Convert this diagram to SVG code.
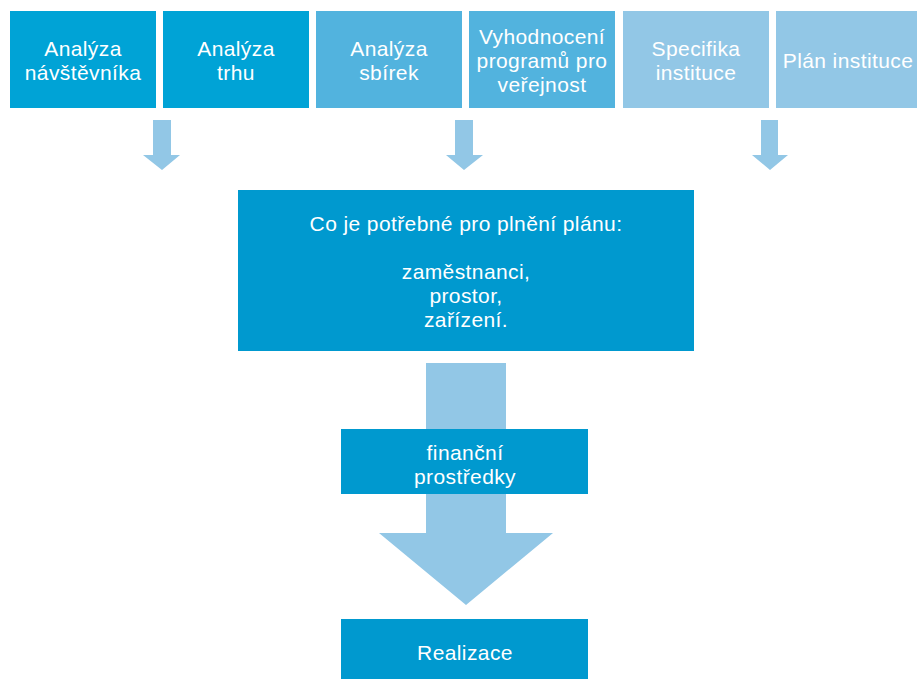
<svg xmlns="http://www.w3.org/2000/svg" width="917" height="679" viewBox="0 0 917 679">
<style>
text{font-family:"Liberation Sans",Arial,sans-serif;font-size:21px;letter-spacing:0.4px;fill:#fff;text-anchor:middle}
.c1{fill:#00A3D6}.c2{fill:#52B3DE}.c3{fill:#92C7E6}.c0{fill:#0099CF}
.arr{fill:#92C7E6}
</style>
<rect width="917" height="679" fill="#fff"/>
<g id="connectors">
<polygon class="arr" points="153,120 171,120 171,155 180,155 162,170 143,155 153,155"/>
<polygon class="arr" points="455,120 473,120 473,155 483,155 464,170 446,155 455,155"/>
<polygon class="arr" points="761,120 778,120 778,155 788,155 770,170 752,155 761,155"/>
<polygon class="arr" points="426,363 506,363 506,533 553,533 466,605 379,533 426,533"/>
</g>
<g id="n1"><rect class="c1" x="10" y="11" width="146" height="97"/><text x="83" y="56">Analýza</text><text x="83" y="80">návštěvníka</text></g>
<g id="n2"><rect class="c1" x="163" y="11" width="146" height="97"/><text x="236" y="56">Analýza</text><text x="236" y="80">trhu</text></g>
<g id="n3"><rect class="c2" x="316" y="11" width="146" height="97"/><text x="389" y="56">Analýza</text><text x="389" y="80">sbírek</text></g>
<g id="n4"><rect class="c2" x="469" y="11" width="146" height="97"/><text x="542" y="44">Vyhodnocení</text><text x="542" y="68">programů pro</text><text x="542" y="92">veřejnost</text></g>
<g id="n5"><rect class="c3" x="623" y="11" width="146" height="97"/><text x="696" y="56">Specifika</text><text x="696" y="80">instituce</text></g>
<g id="n6"><rect class="c3" x="776" y="11" width="146" height="97"/><text x="848" y="68">Plán instituce</text></g>
<g id="n7"><rect class="c0" x="238" y="190" width="456" height="161"/><text x="466" y="231">Co je potřebné pro plnění plánu:</text><text x="466" y="279">zaměstnanci,</text><text x="466" y="303">prostor,</text><text x="466" y="327">zařízení.</text></g>
<g id="n8"><rect class="c0" x="341" y="429" width="247" height="65"/><text x="465" y="460">finanční</text><text x="465" y="484">prostředky</text></g>
<g id="n9"><rect class="c0" x="341" y="619" width="247" height="60"/><text x="465" y="660">Realizace</text></g>
</svg>
